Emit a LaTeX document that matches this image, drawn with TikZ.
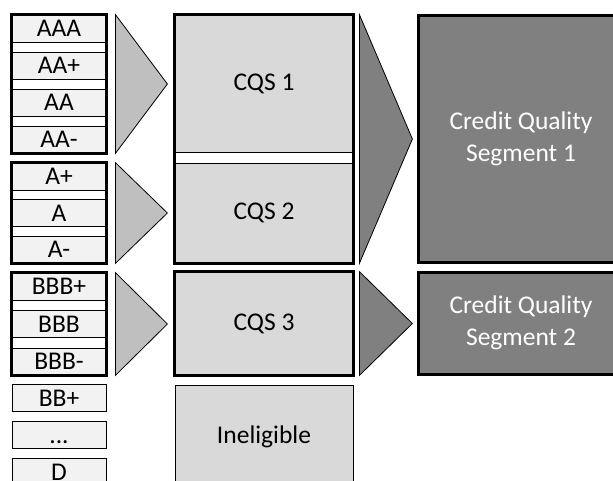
\documentclass[tikz,border=0pt]{standalone}
\usepackage{fontspec}
\setmainfont{Carlito}
\usetikzlibrary{calc}
\definecolor{ratinggray}{HTML}{F2F2F2}
\definecolor{cqsgray}{HTML}{D9D9D9}
\definecolor{trigray}{HTML}{BFBFBF}
\definecolor{darkgray}{HTML}{808080}

\begin{document}
\begin{tikzpicture}[x=1pt, y=-1pt]
		\tikzstyle{every node}=[inner sep=0pt, font=\fontsize{25.5}{32}\selectfont]
		\tikzstyle{rating}=[rectangle, draw, line width=0.8pt, fill=ratinggray, minimum width=94pt, minimum height=27pt, text height=16pt, text depth=0pt]
		\tikzstyle{cqs}=[rectangle, draw, line width=0.8pt, fill=cqsgray, minimum width=178pt]
		\tikzstyle{segment}=[rectangle, draw, line width=3pt, fill=darkgray, text=white, align=center, minimum width=206pt]
		\tikzstyle{group}=[line width=3pt]
		\tikzstyle{lighttri}=[draw, line width=0.8pt, fill=trigray, line join=miter]
		\tikzstyle{darktri}=[draw, line width=0.8pt, fill=darkgray, line join=miter]

		\useasboundingbox (0,0) rectangle (613,480);

		% rating scale
		\node[rating] (aaa) at (59,28.5) {AAA};
		\node[rating] (aap) at (59,65.5) {AA+};
		\node[rating] (aa) at (59,102.5) {AA};
		\node[rating] (aam) at (59,139.5) {AA-};

		\node[rating] (ap) at (59,176.5) {A+};
		\node[rating] (a) at (59,213) {A};
		\node[rating] (am) at (59,249.5) {A-};

		\node[rating] (bbbp) at (59,286.5) {BBB+};
		\node[rating] (bbb) at (59,324) {BBB};
		\node[rating] (bbbm) at (59,361.5) {BBB-};

		\node[rating] (bbp) at (59,398) {BB+};
		\node[rating] (dots) at (59,435) {...};
		\node[rating] (d) at (59,472) {D};

		\draw[group] (aaa.north west) rectangle (aam.south east);
		\draw[group] (ap.north west) rectangle (am.south east);
		\draw[group] (bbbp.north west) rectangle (bbbm.south east);

		% credit quality steps
		\node[cqs, minimum height=137pt] (cqs1) at (264,83.5) {CQS 1};
		\node[cqs, minimum height=100pt] (cqs2) at (264,213) {CQS 2};
		\node[cqs, minimum height=103pt] (cqs3) at (264,323.5) {CQS 3};
		\node[cqs, minimum height=104pt] (inel) at (264,437) {Ineligible};

		\draw[group] (cqs1.north west) rectangle (cqs2.south east);
		\draw[group] (cqs3.north west) rectangle (cqs3.south east);

		\draw[lighttri] ([xshift=9pt]aaa.north east) -- ($(aaa.north east)!.5!(aam.south east)+(61,0)$) -- ([xshift=9pt]aam.south east) -- cycle;
		\draw[lighttri] ([xshift=9pt]ap.north east) -- ($(ap.north east)!.5!(am.south east)+(61,0)$) -- ([xshift=9pt]am.south east) -- cycle;
		\draw[lighttri] ([xshift=9pt]bbbp.north east) -- ($(bbbp.north east)!.5!(bbbm.south east)+(61,0)$) -- ([xshift=9pt]bbbm.south east) -- cycle;

		% segments
		\node[segment, minimum height=247pt] (seg1) at (521,138.5) {Credit Quality\\Segment 1};
		\node[segment, minimum height=102pt] (seg2) at (521,323) {Credit Quality\\Segment 2};

		\draw[darktri] ([xshift=6pt]cqs1.north east) -- ($(cqs1.north east)!.5!(cqs2.south east)+(59,0)$) -- ([xshift=6pt]cqs2.south east) -- cycle;
		\draw[darktri] ([xshift=6pt]cqs3.north east) -- ($(cqs3.north east)!.5!(cqs3.south east)+(59,0)$) -- ([xshift=6pt]cqs3.south east) -- cycle;

	\end{tikzpicture}
\end{document}
